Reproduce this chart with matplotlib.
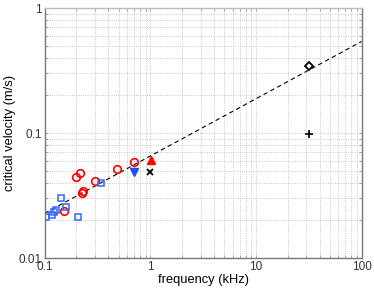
import matplotlib
matplotlib.use("Agg")
from matplotlib import pyplot as plt
import numpy as np

plt.rcParams['font.family'] = ['Liberation Sans', 'DejaVu Sans']

# Данные (частота в кГц, критическая скорость в м/с)
circ_f = [0.151, 0.197, 0.216, 0.224, 0.232, 0.30, 0.488, 0.702]
circ_v = [0.0236, 0.0447, 0.0476, 0.0333, 0.0342, 0.0413, 0.0518, 0.059]

sq_f = [0.104, 0.118, 0.122, 0.127, 0.142, 0.158, 0.208, 0.34]
sq_v = [0.0214, 0.0222, 0.0232, 0.0242, 0.0304, 0.0255, 0.0214, 0.040]

tri_up_f = [1.01]
tri_up_v = [0.0608]
tri_dn_f = [0.70]
tri_dn_v = [0.0485]
cross_f = [1.0]
cross_v = [0.049]
diam_f = [31.5]
diam_v = [0.345]
plus_f = [31.6]
plus_v = [0.099]

fit_f = [0.1, 100]
fit_v = [0.0228, 0.54]

fig = plt.figure(figsize=(3.74, 2.90), dpi=100)
ax = fig.add_axes([0.1195, 0.1103, 0.8475, 0.8621])

ax.plot(fit_f, fit_v, 'k--', lw=0.8, dashes=(4, 3))
ax.plot(circ_f, circ_v, 'o', mfc='none', mec='red', ms=5.5, mew=1.2)
ax.plot(sq_f, sq_v, 's', mfc='none', mec='#3366ff', ms=4.5, mew=1.1)
ax.plot(tri_up_f, tri_up_v, '^', color='red', ms=6)
ax.plot(tri_dn_f, tri_dn_v, 'v', color='#1a4dff', ms=6)
ax.plot(cross_f, cross_v, 'x', color='k', ms=4, mew=1.3)
ax.plot(diam_f, diam_v, 'D', mfc='none', mec='k', ms=4, mew=1.3)
ax.plot(plus_f, plus_v, '+', color='k', ms=6, mew=1.2)

ax.set_xscale('log')
ax.set_yscale('log')
ax.set_xlim(0.1, 100)
ax.set_ylim(0.01, 1)
ax.set_xticks([0.1, 1, 10, 100])
ax.set_xticklabels(['0.1', '1', '10', '100'])
ax.set_yticks([0.01, 0.1, 1])
ax.set_yticklabels(['0.01', '0.1', '1'])

ax.grid(True, which='both', ls=':', color='#b8b8b8', lw=0.6)
ax.tick_params(which='both', direction='in', labelsize=8.5, colors='#333333',
               top=True, right=True, length=2, width=0.6, pad=2)
ax.tick_params(which='both', color='#999999')
for s in ax.spines.values():
    s.set_color('#777777')
    s.set_linewidth(1.0)
ax.spines['top'].set_color('#bbbbbb')

ax.set_xlabel('frequency (kHz)', fontsize=9.3, labelpad=1)
ax.set_ylabel('critical velocity (m/s)', fontsize=9.3, labelpad=2)

fig.savefig('out.png', dpi=100)
